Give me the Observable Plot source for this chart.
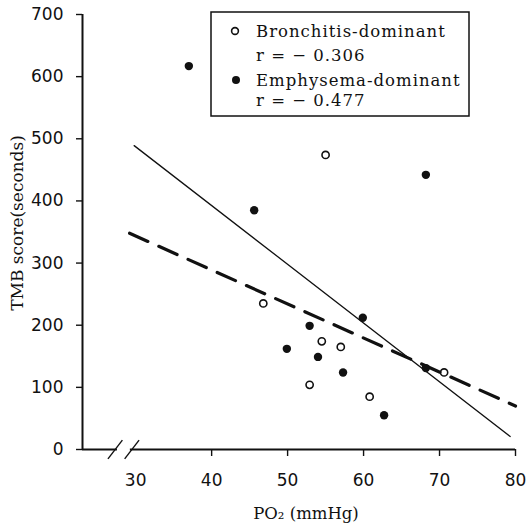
<!DOCTYPE html>
<html>
<head>
<meta charset="utf-8">
<script src="https://cdn.jsdelivr.net/npm/d3@7"></script>
<script src="https://cdn.jsdelivr.net/npm/@observablehq/plot@0.6"></script>
<style>
  html, body { margin: 0; padding: 0; background: white; }
  #wrap { position: relative; width: 526px; height: 531px; }
</style>
</head>
<body>
<div id="wrap"></div>
<script>
// ---- data ----
const xTickLabels = [30, 40, 50, 60, 70, 80];
const xTickMarks = [40, 50, 60, 70, 80];
const yTicks = [0, 100, 200, 300, 400, 500, 600, 700];

const bronchitisX = [55.0, 46.8, 54.5, 57.0, 52.9, 60.8, 70.6];
const bronchitisY = [474, 235, 174, 165, 104, 85, 124];

const emphysemaX = [37.0, 45.6, 68.2, 59.9, 52.9, 49.9, 54.0, 57.3, 62.7, 68.2];
const emphysemaY = [617, 385, 442, 212, 199, 162, 149, 124, 55, 131];

const solidLineX = [29.8, 79.3];
const solidLineY = [489, 21];
const dashedLineX = [29.2, 80];
const dashedLineY = [348, 70];

const axisBreakAt = [27.3, 29.5];

const legendLabels = ["Bronchitis-dominant", "r = − 0.306", "Emphysema-dominant", "r = − 0.477"];
const xLabel = "PO₂ (mmHg)";
const yLabel = "TMB score(seconds)";

// ---- build ----
const bron = bronchitisX.map((x, i) => ({x, y: bronchitisY[i]}));
const emph = emphysemaX.map((x, i) => ({x, y: emphysemaY[i]}));
const solid = solidLineX.map((x, i) => ({x, y: solidLineY[i]}));
const dashed = dashedLineX.map((x, i) => ({x, y: dashedLineY[i]}));
const xMin = 23;
const segments = [
  {x1: xMin, x2: axisBreakAt[0] + 0.3},
  {x1: axisBreakAt[1] - 0.2, x2: 80}
];

const ink = "#111";

const chart = Plot.plot({
  width: 526,
  height: 531,
  marginLeft: 82,
  marginRight: 11,
  marginTop: 14,
  marginBottom: 82,
  x: {domain: [xMin, 80]},
  y: {domain: [0, 700]},
  style: {fontFamily: "DejaVu Sans", color: ink, background: "white", overflow: "visible"},
  marks: [
    // y axis
    Plot.ruleX([xMin], {stroke: ink, strokeWidth: 2}),
    Plot.axisY(yTicks, {tickSize: 6, tickPadding: 13, fontSize: 17, label: null, stroke: ink, strokeWidth: 1.4}),
    // x axis line with break
    Plot.ruleY(segments, {y: 0, x1: "x1", x2: "x2", stroke: ink, strokeWidth: 2}),
    Plot.link(axisBreakAt, {x1: d => d - 0.95, x2: d => d + 0.95, y1: -15, y2: 15, stroke: ink, strokeWidth: 1.4}),
    Plot.axisX(xTickMarks, {tickSize: 7, fill: "none", label: null, stroke: ink, strokeWidth: 1.4}),
    Plot.axisX(xTickLabels, {tickSize: 0, tickPadding: 24, fontSize: 17, label: null}),
    // regression lines
    Plot.line(solid, {x: "x", y: "y", stroke: ink, strokeWidth: 1.3}),
    Plot.line(dashed, {x: "x", y: "y", stroke: ink, strokeWidth: 3.2, strokeDasharray: "20,12"}),
    // points
    Plot.dot(emph, {x: "x", y: "y", r: 4.2, fill: ink, stroke: "none"}),
    Plot.dot(bron, {x: "x", y: "y", r: 3.6, fill: "none", stroke: ink, strokeWidth: 1.6}),
    // axis titles
    Plot.text([xLabel], {text: d => d, frameAnchor: "bottom", dx: 7, dy: 69, fontFamily: "DejaVu Serif", fontSize: 16.5, fill: ink}),
    Plot.text([yLabel], {text: d => d, frameAnchor: "left", textAnchor: "middle", rotate: -90, dx: -65, dy: -9, fontFamily: "DejaVu Serif", fontSize: 17, letterSpacing: 0.4, fill: ink})
  ]
});

const wrap = document.getElementById("wrap");
wrap.appendChild(chart);

// ---- legend overlay ----
const lg = d3.create("svg")
  .attr("width", 526).attr("height", 531)
  .style("position", "absolute").style("left", "0px").style("top", "0px")
  .style("pointer-events", "none");

lg.append("rect")
  .attr("x", 211).attr("y", 12).attr("width", 258).attr("height", 104)
  .attr("fill", "white").attr("stroke", ink).attr("stroke-width", 1.5);

const baselines = [37, 61, 86, 106];
lg.selectAll("text.lab").data(legendLabels).join("text")
  .attr("class", "lab")
  .attr("x", 256)
  .attr("y", (d, i) => baselines[i])
  .attr("font-family", "DejaVu Serif")
  .attr("font-size", 16.5)
  .attr("letter-spacing", 1)
  .attr("fill", ink)
  .text(d => d);

lg.append("circle").attr("cx", 235).attr("cy", 31).attr("r", 3.4)
  .attr("fill", "none").attr("stroke", ink).attr("stroke-width", 1.6);
lg.append("circle").attr("cx", 236).attr("cy", 80).attr("r", 4)
  .attr("fill", ink);

wrap.appendChild(lg.node());
</script>
</body>
</html>
